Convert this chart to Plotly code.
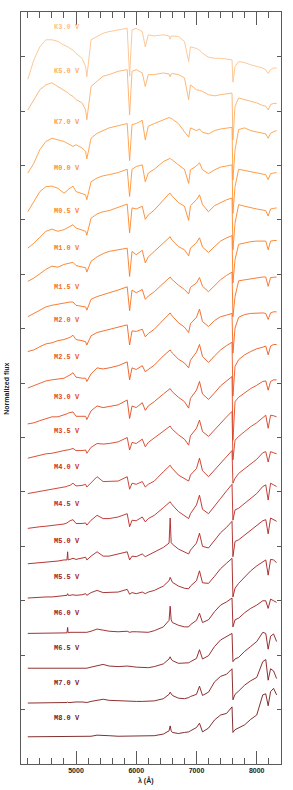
import plotly.graph_objects as go

wavelength = [4200, 4300, 4400, 4500, 4600, 4700, 4800, 4850, 4861, 4870,
              4900, 4950, 5000, 5100, 5160, 5180, 5250, 5350, 5450, 5550,
              5700, 5850, 5890, 5930, 6000, 6100, 6150, 6200, 6300, 6450,
              6545, 6563, 6580, 6600, 6700, 6800, 6870, 6900, 7000, 7050,
              7100, 7200, 7300, 7400, 7500, 7590, 7605, 7640, 7700, 7800,
              7900, 8000, 8100, 8150, 8190, 8230, 8280, 8330]

spectral_types = ["K3.0 V", "K5.0 V", "K7.0 V", "M0.0 V", "M0.5 V", "M1.0 V", "M1.5 V",
                  "M2.0 V", "M2.5 V", "M3.0 V", "M3.5 V", "M4.0 V", "M4.5 V", "M5.0 V",
                  "M5.5 V", "M6.0 V", "M6.5 V", "M7.0 V", "M8.0 V"]

offsets = [13.54, 12.73, 11.79, 10.95, 10.16, 9.49, 8.77, 8.16, 7.48, 6.75,
           6.12, 5.45, 4.77, 4.10, 3.44, 2.77, 2.14, 1.49, 0.84]

flux_k30 = [-0.96, -0.60, -0.36, -0.23, -0.23, -0.26, -0.33, -0.35, -0.37, -0.36,
            -0.39, -0.42, -0.48, -0.57, -0.72, -0.91, -0.23, -0.17, -0.11, -0.08,
            -0.05, -0.02, -0.90, -0.05, -0.02, -0.08, -0.36, -0.14, -0.16, -0.14,
            -0.16, -0.22, -0.16, -0.16, -0.17, -0.26, -0.63, -0.36, -0.39, -0.42,
            -0.48, -0.55, -0.57, -0.57, -0.59, -0.60, -1.01, -0.72, -0.63, -0.65,
            -0.69, -0.72, -0.75, -0.78, -0.85, -0.78, -0.75, -0.75]
flux_k50 = [-0.71, -0.52, -0.34, -0.25, -0.21, -0.28, -0.34, -0.38, -0.39, -0.40,
            -0.43, -0.46, -0.52, -0.58, -0.71, -0.89, -0.28, -0.18, -0.09, -0.06,
            0.00, 0.03, -0.80, 0.00, 0.03, -0.03, -0.28, -0.06, -0.06, -0.03,
            -0.05, -0.10, -0.05, -0.04, -0.06, -0.12, -0.52, -0.25, -0.34, -0.35,
            -0.37, -0.43, -0.45, -0.43, -0.41, -0.40, -1.26, -0.64, -0.49, -0.52,
            -0.55, -0.58, -0.63, -0.64, -0.71, -0.61, -0.59, -0.59]
flux_k70 = [-0.93, -0.75, -0.50, -0.35, -0.29, -0.32, -0.35, -0.38, -0.39, -0.40,
            -0.41, -0.44, -0.41, -0.47, -0.53, -0.67, -0.29, -0.20, -0.15, -0.10,
            -0.06, -0.02, -0.70, -0.04, -0.02, 0.04, -0.32, -0.07, -0.02, 0.05,
            0.09, 0.08, 0.08, 0.06, -0.02, -0.17, -0.27, -0.10, -0.15, -0.12,
            -0.18, -0.21, -0.15, -0.12, -0.10, -0.09, -1.06, -0.50, -0.13, -0.10,
            -0.15, -0.17, -0.20, -0.21, -0.29, -0.20, -0.17, -0.15]
flux_m00 = [-0.80, -0.61, -0.43, -0.34, -0.33, -0.37, -0.46, -0.42, -0.40, -0.39,
            -0.37, -0.33, -0.43, -0.46, -0.49, -0.58, -0.25, -0.18, -0.14, -0.12,
            -0.08, -0.02, -0.52, -0.02, 0.03, 0.06, -0.25, -0.09, -0.02, 0.12,
            0.17, 0.18, 0.16, 0.15, 0.06, -0.02, -0.28, -0.03, 0.04, 0.10,
            -0.03, -0.10, -0.03, 0.02, 0.04, 0.06, -0.83, -0.34, -0.02, -0.04,
            -0.06, -0.08, -0.10, -0.12, -0.21, -0.10, -0.09, -0.08]
flux_m05 = [-0.68, -0.59, -0.48, -0.37, -0.33, -0.37, -0.34, -0.31, -0.30, -0.29,
            -0.27, -0.25, -0.31, -0.34, -0.37, -0.44, -0.13, -0.05, -0.01, 0.01,
            0.07, 0.13, -0.40, 0.06, 0.04, 0.09, -0.15, -0.07, 0.02, 0.21,
            0.32, 0.33, 0.30, 0.27, 0.16, 0.09, -0.17, 0.10, 0.21, 0.30,
            0.12, -0.01, 0.10, 0.16, 0.21, 0.24, -0.71, -0.22, 0.12, 0.09,
            0.06, 0.04, 0.02, 0.01, -0.09, 0.04, 0.05, 0.06]
flux_m10 = [-0.62, -0.56, -0.48, -0.40, -0.34, -0.36, -0.31, -0.30, -0.29, -0.29,
            -0.28, -0.27, -0.33, -0.36, -0.37, -0.45, -0.25, -0.17, -0.11, -0.07,
            -0.04, -0.01, -0.53, -0.07, -0.13, -0.05, -0.28, -0.17, -0.07, 0.09,
            0.19, 0.20, 0.16, 0.13, 0.02, -0.04, -0.15, -0.01, 0.09, 0.18,
            0.01, -0.09, 0.02, 0.12, 0.18, 0.22, -0.65, -0.22, 0.06, 0.09,
            0.11, 0.12, 0.12, 0.12, -0.04, 0.12, 0.13, 0.13]
flux_m15 = [-0.55, -0.49, -0.43, -0.37, -0.34, -0.32, -0.29, -0.29, -0.28, -0.28,
            -0.28, -0.28, -0.34, -0.36, -0.37, -0.43, -0.23, -0.18, -0.14, -0.11,
            -0.06, 0.00, -0.44, -0.06, -0.11, -0.05, -0.23, -0.17, -0.09, 0.07,
            0.16, 0.18, 0.15, 0.13, 0.03, -0.05, -0.13, -0.01, 0.07, 0.17,
            0.01, -0.09, 0.03, 0.13, 0.21, 0.27, -0.55, -0.18, 0.11, 0.13,
            0.15, 0.17, 0.18, 0.18, 0.01, 0.17, 0.18, 0.18]
flux_m20 = [-0.58, -0.55, -0.49, -0.44, -0.42, -0.38, -0.36, -0.34, -0.33, -0.33,
            -0.32, -0.28, -0.36, -0.38, -0.40, -0.46, -0.29, -0.23, -0.20, -0.17,
            -0.13, -0.09, -0.46, -0.20, -0.21, -0.17, -0.31, -0.25, -0.17, 0.01,
            0.12, 0.13, 0.10, 0.07, -0.05, -0.13, -0.23, -0.07, 0.05, 0.20,
            -0.03, -0.12, -0.01, 0.06, 0.09, 0.12, -0.61, -0.15, 0.05, 0.10,
            0.12, 0.13, 0.13, 0.12, 0.01, 0.13, 0.15, 0.15]
flux_m25 = [-0.57, -0.53, -0.48, -0.44, -0.42, -0.40, -0.39, -0.36, -0.35, -0.34,
            -0.33, -0.29, -0.37, -0.39, -0.39, -0.45, -0.31, -0.20, -0.22, -0.20,
            -0.16, -0.09, -0.42, -0.20, -0.23, -0.16, -0.27, -0.23, -0.15, 0.02,
            0.12, 0.13, 0.10, 0.07, -0.04, -0.11, -0.20, -0.06, 0.09, 0.23,
            0.01, -0.10, 0.02, 0.13, 0.21, 0.27, -0.72, -0.17, -0.05, 0.04,
            0.10, 0.15, 0.18, 0.20, 0.04, 0.20, 0.23, 0.23]
flux_m30 = [-0.50, -0.48, -0.44, -0.40, -0.37, -0.37, -0.34, -0.32, -0.31, -0.30,
            -0.29, -0.28, -0.36, -0.36, -0.36, -0.42, -0.26, -0.17, -0.20, -0.18,
            -0.15, -0.06, -0.40, -0.17, -0.20, -0.11, -0.25, -0.17, -0.09, 0.05,
            0.14, 0.15, 0.12, 0.09, -0.01, -0.09, -0.21, -0.03, 0.12, 0.28,
            0.05, -0.05, 0.07, 0.20, 0.29, 0.37, -0.80, -0.09, -0.01, 0.07,
            0.15, 0.21, 0.28, 0.29, 0.12, 0.28, 0.31, 0.31]
flux_m35 = [-0.50, -0.47, -0.44, -0.42, -0.41, -0.38, -0.36, -0.35, -0.35, -0.34,
            -0.34, -0.32, -0.36, -0.36, -0.35, -0.41, -0.30, -0.23, -0.24, -0.23,
            -0.20, -0.12, -0.35, -0.21, -0.23, -0.15, -0.29, -0.21, -0.13, -0.01,
            0.08, 0.09, 0.06, 0.03, -0.07, -0.15, -0.26, -0.09, 0.05, 0.20,
            -0.01, -0.10, 0.02, 0.15, 0.26, 0.36, -0.53, -0.17, -0.10, -0.01,
            0.08, 0.15, 0.25, 0.29, 0.05, 0.29, 0.28, 0.26]
flux_m40 = [-0.48, -0.46, -0.44, -0.42, -0.40, -0.39, -0.36, -0.35, -0.34, -0.34,
            -0.33, -0.29, -0.34, -0.33, -0.31, -0.36, -0.28, -0.17, -0.26, -0.26,
            -0.25, -0.17, -0.40, -0.29, -0.31, -0.26, -0.36, -0.31, -0.25, -0.08,
            0.03, 0.04, 0.01, -0.02, -0.14, -0.20, -0.25, -0.14, -0.02, 0.17,
            -0.06, -0.17, -0.05, 0.09, 0.21, 0.31, -0.29, -0.20, -0.11, -0.02,
            0.07, 0.15, 0.27, 0.29, 0.10, 0.29, 0.27, 0.25]
flux_m45 = [-0.44, -0.42, -0.41, -0.40, -0.39, -0.38, -0.36, -0.34, -0.33, -0.32,
            -0.30, -0.28, -0.35, -0.35, -0.34, -0.38, -0.29, -0.20, -0.26, -0.26,
            -0.23, -0.17, -0.41, -0.29, -0.30, -0.23, -0.32, -0.26, -0.20, -0.06,
            0.04, 0.05, 0.02, -0.01, -0.13, -0.21, -0.26, -0.17, -0.01, 0.17,
            -0.09, -0.17, -0.04, 0.11, 0.25, 0.37, -0.29, -0.10, -0.07, 0.02,
            0.11, 0.20, 0.33, 0.36, 0.08, 0.39, 0.36, 0.33]
flux_m50 = [-0.42, -0.41, -0.40, -0.40, -0.39, -0.37, -0.35, -0.35, -0.20, -0.35,
            -0.34, -0.32, -0.34, -0.32, -0.30, -0.35, -0.28, -0.20, -0.28, -0.28,
            -0.24, -0.20, -0.35, -0.28, -0.29, -0.24, -0.29, -0.26, -0.21, -0.12,
            -0.04, 0.42, -0.03, -0.06, -0.15, -0.21, -0.24, -0.17, -0.04, 0.14,
            -0.10, -0.13, 0.01, 0.15, 0.25, 0.36, -0.29, -0.01, 0.02, 0.11,
            0.20, 0.28, 0.37, 0.39, 0.13, 0.42, 0.39, 0.36]
flux_m55 = [-0.39, -0.38, -0.37, -0.37, -0.37, -0.36, -0.34, -0.34, -0.31, -0.34,
            -0.34, -0.33, -0.34, -0.33, -0.31, -0.34, -0.29, -0.25, -0.29, -0.29,
            -0.28, -0.23, -0.32, -0.29, -0.31, -0.28, -0.31, -0.28, -0.25, -0.17,
            -0.07, -0.01, -0.07, -0.10, -0.17, -0.21, -0.22, -0.17, -0.07, 0.11,
            -0.11, -0.12, 0.01, 0.15, 0.25, 0.34, -0.37, -0.21, -0.12, 0.00,
            0.11, 0.20, 0.28, 0.31, 0.03, 0.32, 0.31, 0.26]
flux_m60 = [-0.37, -0.37, -0.36, -0.36, -0.36, -0.36, -0.36, -0.36, -0.26, -0.36,
            -0.35, -0.35, -0.35, -0.34, -0.34, -0.35, -0.33, -0.29, -0.31, -0.33,
            -0.34, -0.33, -0.35, -0.34, -0.34, -0.34, -0.35, -0.35, -0.32, -0.25,
            -0.13, 0.13, -0.12, -0.17, -0.22, -0.25, -0.25, -0.21, -0.13, 0.00,
            -0.17, -0.12, 0.03, 0.15, 0.21, 0.28, -0.25, -0.12, -0.09, 0.01,
            0.09, 0.15, 0.23, 0.23, 0.09, 0.26, 0.23, 0.20]
flux_m65 = [-0.38, -0.38, -0.38, -0.38, -0.38, -0.37, -0.37, -0.37, -0.37, -0.37,
            -0.37, -0.37, -0.37, -0.37, -0.37, -0.38, -0.36, -0.33, -0.31, -0.34,
            -0.35, -0.34, -0.35, -0.35, -0.36, -0.37, -0.37, -0.37, -0.35, -0.30,
            -0.21, -0.17, -0.21, -0.24, -0.29, -0.29, -0.28, -0.26, -0.20, -0.04,
            -0.21, -0.15, 0.02, 0.14, 0.21, 0.26, -0.26, -0.21, -0.18, -0.07,
            0.02, 0.11, 0.28, 0.26, -0.03, 0.21, 0.25, 0.11]
flux_m70 = [-0.37, -0.37, -0.36, -0.36, -0.36, -0.36, -0.36, -0.36, -0.35, -0.36,
            -0.36, -0.35, -0.35, -0.35, -0.35, -0.36, -0.34, -0.32, -0.30, -0.32,
            -0.33, -0.34, -0.34, -0.34, -0.34, -0.34, -0.34, -0.34, -0.33, -0.29,
            -0.21, -0.17, -0.21, -0.23, -0.28, -0.29, -0.27, -0.25, -0.21, -0.06,
            -0.23, -0.17, 0.02, 0.12, 0.16, 0.26, -0.31, -0.21, -0.15, -0.04,
            0.04, 0.10, 0.39, 0.43, 0.05, 0.26, 0.22, 0.08]
flux_m80 = [-0.34, -0.34, -0.33, -0.34, -0.34, -0.33, -0.33, -0.33, -0.33, -0.33,
            -0.33, -0.33, -0.33, -0.33, -0.33, -0.33, -0.33, -0.31, -0.31, -0.32,
            -0.33, -0.33, -0.33, -0.33, -0.33, -0.33, -0.33, -0.33, -0.32, -0.29,
            -0.23, -0.14, -0.23, -0.26, -0.28, -0.26, -0.25, -0.23, -0.17, -0.09,
            -0.25, -0.18, -0.03, 0.06, 0.09, 0.21, -0.26, -0.21, -0.18, -0.12,
            -0.02, 0.06, 0.43, 0.45, 0.23, 0.49, 0.55, 0.43]

fluxes = [flux_k30, flux_k50, flux_k70, flux_m00, flux_m05, flux_m10, flux_m15,
          flux_m20, flux_m25, flux_m30, flux_m35, flux_m40, flux_m45, flux_m50,
          flux_m55, flux_m60, flux_m65, flux_m70, flux_m80]

colors = ["#FDC28C", "#FDB06A", "#FF9E42", "#FF9232", "#FD8728", "#FA7C22", "#F6701E",
          "#F2641C", "#EC581C", "#E24A1E", "#D63E20", "#CA3222", "#BC2822", "#AE2020",
          "#A21E1E", "#961C1E", "#8A1A1C", "#801A1A", "#741818"]

AX = "#5a5a5a"
fig = go.Figure()
for name, off, fl, col in zip(spectral_types, offsets, fluxes, colors):
    fig.add_trace(go.Scatter(
        x=wavelength, y=[off + f for f in fl], mode="lines",
        line=dict(color=col, width=0.9), showlegend=False, hoverinfo="skip"))
    fig.add_annotation(
        x=4600, y=off, text=name, showarrow=False, xanchor="left", yanchor="middle",
        font=dict(family="Liberation Mono", size=7, color=col, weight="bold"))

fig.update_layout(
    width=293, height=790, margin=dict(l=21, r=12, t=12, b=26),
    plot_bgcolor="white", paper_bgcolor="white", showlegend=False)

fig.update_xaxes(
    range=[4087, 8403], showline=True, linecolor=AX, linewidth=1, mirror="allticks",
    ticks="inside", ticklen=13, tickcolor=AX, tickwidth=1.2, tick0=0, dtick=1000,
    minor=dict(dtick=200, tick0=0, ticks="inside", ticklen=6, tickcolor=AX, tickwidth=1),
    showgrid=False, zeroline=False,
    tickfont=dict(family="Liberation Sans", size=7, color="#222222", weight="bold"))

fig.update_yaxes(
    range=[0, 13.82], showline=True, linecolor=AX, linewidth=1, mirror="allticks",
    ticks="inside", ticklen=4, tickcolor=AX, tickwidth=1, tick0=0, dtick=1,
    showticklabels=False, showgrid=False, zeroline=False)

fig.add_annotation(x=0.48, y=-0.0226, xref="paper", yref="paper", text="λ (Å)",
                   showarrow=False, xanchor="center", yanchor="middle",
                   font=dict(family="Liberation Sans", size=7, color="#222222", weight="bold"))
fig.add_annotation(x=-0.054, y=0.499, xref="paper", yref="paper", text="Normalized flux",
                   textangle=-90, showarrow=False, xanchor="center", yanchor="middle",
                   font=dict(family="Liberation Sans", size=7, color="#222222", weight="bold"))

fig.write_html("out.html", config={"displayModeBar": False},
               post_script="document.body.style.margin='0';")
